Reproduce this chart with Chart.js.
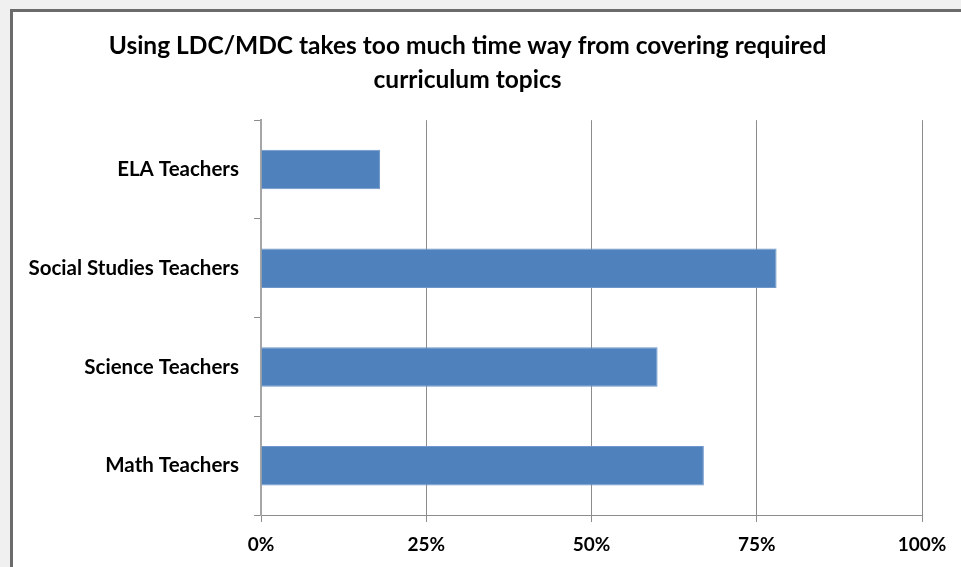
<!DOCTYPE html>
<html>
<head>
<meta charset="utf-8">
<script src="https://cdn.jsdelivr.net/npm/chart.js@4"></script>
<style>
  html, body { margin: 0; padding: 0; background: #f0f0f0; overflow: hidden; width: 100%; height: 100%; }
  #frame {
    position: fixed; left: 10px; top: 9px; right: -40px; bottom: -40px;
    background: #ffffff;
    border-left: 3px solid #6b6b6b;
    border-top: 3px solid #6b6b6b;
  }
  #chart-box { position: absolute; left: 0; top: 0; width: 954px; height: 555px; }
</style>
</head>
<body>
<div id="frame">
  <div id="chart-box"><canvas id="teachers-chart"></canvas></div>
</div>
<script>
// bottom to top in the picture is Math, Science, Social Studies, ELA
const categories = ['ELA Teachers', 'Social Studies Teachers', 'Science Teachers', 'Math Teachers']
const percentValues = [18, 78, 60, 67]
const tickLabels = ['0%', '25%', '50%', '75%', '100%']
const chartTitle = ['Using LDC/MDC takes too much time way from covering required', 'curriculum topics']

const canvas = document.getElementById('teachers-chart')

let teachersChart = new Chart(canvas, {
  type: 'bar',
  data: {
    labels: categories,
    datasets: [
      {
        label: 'Teachers',
        data: percentValues,
        backgroundColor: '#4f81bd',
        borderColor: '#6f97c9',
        borderWidth: 1,
        barPercentage: 0.4,
        categoryPercentage: 1
      }
    ]
  },
  options: {
    indexAxis: 'y',
    responsive: true,
    maintainAspectRatio: false,
    animation: false,
    layout: { padding: { left: 0, right: 45, top: 0, bottom: 0 } },
    plugins: {
      legend: { display: false },
      tooltip: { enabled: false },
      title: {
        display: true,
        text: chartTitle,
        color: '#000000',
        font: { family: 'Lato', size: 24.5, weight: 'bold', lineHeight: 1.35 },
        padding: { top: 18, bottom: 24 }
      }
    },
    scales: {
      x: {
        min: 0,
        max: 100,
        afterBuildTicks: function (scale) {
          scale.ticks = tickLabels.map((t, i) => ({ value: i * 25 }))
        },
        afterFit: function (scale) { scale.height = 52 },
        ticks: {
          color: '#000000',
          font: { family: 'Lato', size: 19, weight: 'bold' },
          padding: 11,
          maxRotation: 0,
          callback: function (value, index) { return tickLabels[index] }
        },
        grid: { color: '#8c8c8c', lineWidth: 1, tickLength: 7 },
        border: { color: '#8c8c8c', width: 1 }
      },
      y: {
        afterFit: function (scale) { scale.width = 248 },
        ticks: {
          color: '#000000',
          font: { family: 'Lato', size: 20.5, weight: 'bold' },
          padding: 15
        },
        grid: { offset: true, drawOnChartArea: false, color: '#8c8c8c', tickLength: 7 },
        border: { color: '#a6a6a6', width: 2 }
      }
    }
  }
})
</script>
</body>
</html>
